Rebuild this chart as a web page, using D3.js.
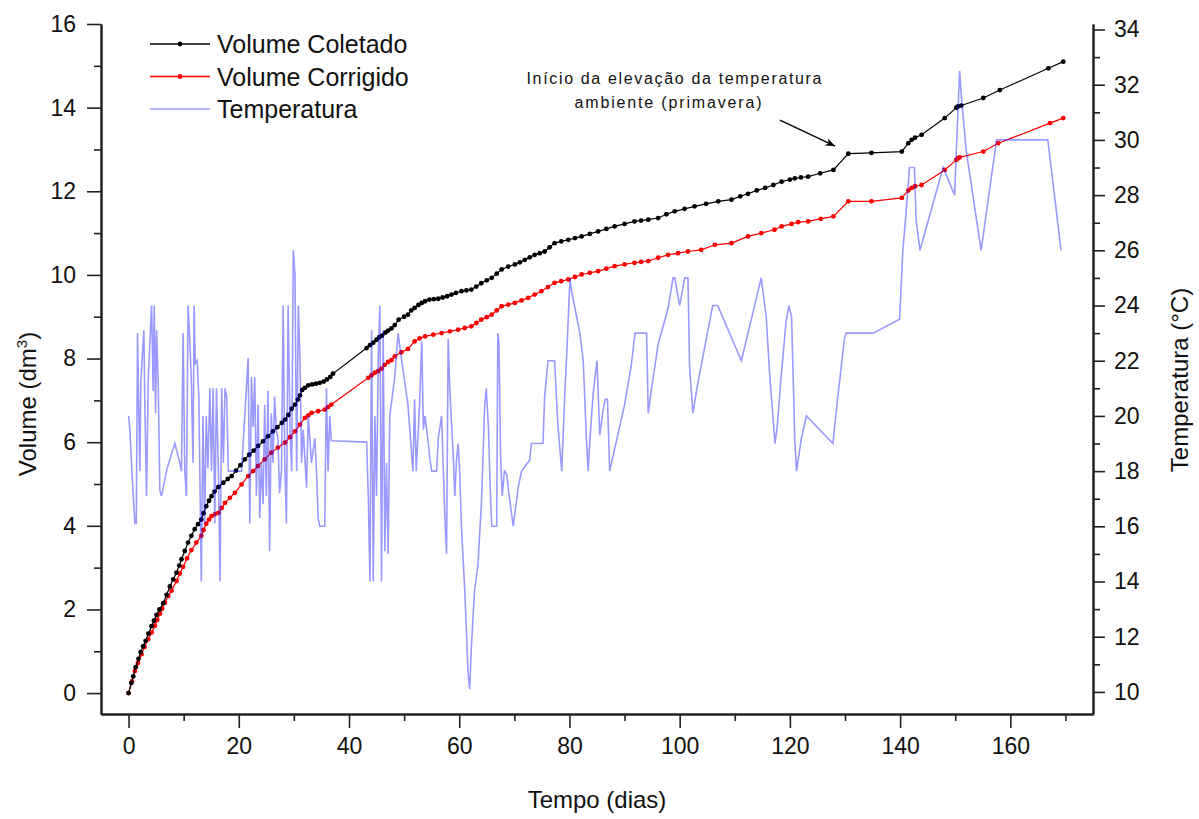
<!DOCTYPE html>
<html lang="pt">
<head>
<meta charset="UTF-8">
<script src="https://d3js.org/d3.v7.min.js"></script>
<style>
    body { margin: 0; background: #fff; font-family: "Liberation Sans", Arial, sans-serif; }
    .tick text { font-size: 23px; fill: #111; font-family: "Liberation Sans", Arial, sans-serif; }
    .axis path, .axis line { stroke: #222; }
    .axis path { stroke-width: 2px; }
    .axis line { stroke-width: 1.6px; }
    .titulo { font-size: 24px; fill: #111; }
    .legenda { font-size: 25px; fill: #111; }
    .nota { font-size: 16px; fill: #111; }
</style>
</head>
<body>
<svg id="chart"></svg>
<script>
// Volume Coletado (dm3)
const diasColetado = [0, 0.5, 0.85, 1.3, 1.8, 2.2, 2.66, 3.1, 3.6, 4.17, 4.6, 5.08, 5.6, 6.3, 6.9, 7.5, 8.1, 8.7, 9.2, 9.6,
    10.2, 10.8, 11.4, 12.0, 12.6, 13.2, 13.6, 14.1, 14.6, 15.05, 15.6, 16.3, 17.2, 18.0, 18.7, 19.5, 20.3, 21.1, 21.9, 22.7,
    23.5, 24.4, 25.3, 26.2, 27.0, 27.8, 28.4, 29.0, 29.6, 30.2, 30.7, 31.1, 31.5, 32.0, 32.6, 33.3, 34.0, 34.7, 35.4, 36.0,
    36.6, 37.1, 43.2, 43.8, 44.4, 45.0, 45.5, 46.0, 46.6, 47.1, 47.7, 48.3, 49.0, 50.0, 50.7, 51.3, 51.9, 52.6, 53.2, 53.8,
    54.6, 55.4, 56.2, 57.0, 57.8, 58.6, 59.4, 60.4, 61.3, 62.2, 63.1, 64.0, 65.0, 65.9, 66.8, 67.7, 68.9, 70.1, 71.0, 71.9,
    72.8, 73.7, 74.6, 75.5, 76.4, 77.3, 78.5, 79.8, 81.0, 82.2, 83.7, 85.2, 86.7, 88.2, 90.0, 91.8, 93.0, 94.3, 96.1, 97.6,
    99.1, 100.9, 102.7, 104.8, 107.0, 109.4, 111.0, 112.4, 114.0, 115.5, 117.0, 118.5, 120.0, 120.9, 122.0, 123.3, 125.5, 127.9, 130.6, 134.8,
    140.3, 141.5, 142.1, 142.7, 143.9, 148.1, 150.2, 150.5, 151.1, 155.1, 158.1, 166.9, 169.6];
const volColetado = [0, 0.24, 0.4, 0.62, 0.82, 0.98, 1.12, 1.25, 1.42, 1.6, 1.73, 1.87, 2.0, 2.15, 2.35, 2.55, 2.72, 2.88, 3.05, 3.2,
    3.4, 3.6, 3.76, 3.92, 4.04, 4.15, 4.3, 4.47, 4.6, 4.71, 4.82, 4.93, 5.03, 5.12, 5.19, 5.32, 5.45, 5.59, 5.7, 5.8,
    5.91, 6.02, 6.14, 6.26, 6.36, 6.46, 6.54, 6.65, 6.8, 6.9, 7.02, 7.12, 7.25, 7.3, 7.36, 7.38, 7.4, 7.42, 7.45, 7.5,
    7.56, 7.64, 8.25, 8.32, 8.38, 8.45, 8.51, 8.55, 8.62, 8.67, 8.72, 8.8, 8.93, 9.0, 9.05, 9.15, 9.21, 9.28, 9.33, 9.37,
    9.41, 9.42, 9.43, 9.46, 9.49, 9.53, 9.57, 9.61, 9.63, 9.65, 9.72, 9.8, 9.87, 9.93, 10.03, 10.13, 10.2, 10.25, 10.3, 10.36,
    10.42, 10.48, 10.52, 10.56, 10.66, 10.76, 10.8, 10.84, 10.88, 10.92, 10.98, 11.04, 11.1, 11.16, 11.22, 11.28, 11.3, 11.32, 11.36, 11.45,
    11.52, 11.58, 11.64, 11.7, 11.76, 11.8, 11.88, 11.94, 12.02, 12.08, 12.15, 12.23, 12.28, 12.31, 12.33, 12.35, 12.43, 12.51, 12.9, 12.92,
    12.95, 13.15, 13.23, 13.28, 13.35, 13.75, 14.0, 14.03, 14.05, 14.23, 14.42, 14.94, 15.1];

// Volume Corrigido (dm3)
const diasCorrigido = [0, 0.6, 1.15, 1.7, 2.36, 2.9, 3.57, 4.2, 4.78, 5.2, 5.7, 6.1, 6.6, 7.2, 7.8, 8.7, 9.3, 9.9, 10.6, 11.4,
    12.3, 13.2, 13.6, 14.1, 14.6, 15.05, 15.7, 16.3, 16.9, 17.5, 18.4, 19.3, 20.5, 21.7, 22.6, 23.5, 24.7, 25.9, 27.1, 28.4,
    29.3, 30.2, 31.1, 32.0, 32.6, 33.2, 34.4, 35.6, 36.2, 36.8, 43.5, 44.1, 44.7, 45.3, 45.9, 46.5, 47.1, 47.7, 48.3, 49.5,
    50.7, 51.9, 52.8, 53.8, 55.3, 56.8, 58.3, 59.8, 61.0, 62.2, 63.1, 64.0, 65.0, 65.9, 66.8, 67.7, 68.9, 70.1, 71.3, 72.5,
    73.7, 74.9, 76.1, 77.3, 78.5, 79.8, 81.0, 82.2, 83.7, 85.2, 86.7, 88.2, 90.0, 91.8, 93.0, 94.3, 96.1, 97.9, 99.7, 101.5,
    103.9, 106.4, 109.4, 112.4, 114.8, 117.2, 118.5, 120.3, 121.5, 123.3, 125.6, 127.9, 130.6, 134.8, 140.3, 141.5, 142.1, 142.7, 143.9, 148.1,
    150.2, 150.5, 150.8, 155.1, 157.8, 167.2, 169.6];
const volCorrigido = [0, 0.28, 0.53, 0.72, 0.93, 1.1, 1.29, 1.45, 1.61, 1.75, 1.9, 2.02, 2.16, 2.32, 2.45, 2.68, 2.86, 3.02, 3.22, 3.42,
    3.6, 3.76, 3.9, 4.05, 4.15, 4.23, 4.28, 4.31, 4.43, 4.55, 4.67, 4.79, 4.99, 5.19, 5.31, 5.43, 5.59, 5.75, 5.87, 5.99,
    6.12, 6.26, 6.42, 6.58, 6.64, 6.7, 6.74, 6.78, 6.84, 6.9, 7.54, 7.6, 7.66, 7.7, 7.76, 7.85, 7.92, 7.96, 8.05, 8.15,
    8.23, 8.41, 8.48, 8.53, 8.57, 8.61, 8.65, 8.69, 8.73, 8.77, 8.85, 8.93, 8.99, 9.05, 9.15, 9.25, 9.29, 9.33, 9.39, 9.45,
    9.53, 9.61, 9.71, 9.81, 9.85, 9.89, 9.95, 10.01, 10.05, 10.09, 10.15, 10.21, 10.25, 10.29, 10.31, 10.33, 10.41, 10.48, 10.52, 10.56,
    10.6, 10.72, 10.76, 10.92, 11.0, 11.08, 11.16, 11.22, 11.26, 11.28, 11.34, 11.4, 11.76, 11.76, 11.84, 12.02, 12.08, 12.12, 12.15, 12.51,
    12.75, 12.79, 12.81, 12.95, 13.15, 13.63, 13.75];

// Temperatura (°C)
const diasTemp = [0, 0.24, 0.66, 1.15, 1.4, 1.63, 1.87, 2.05, 2.23, 2.48, 2.78, 2.96, 3.26, 3.56, 3.87, 4.17, 4.47, 4.65, 4.9, 5.08,
    5.38, 5.68, 5.98, 7.0, 8.4, 9.3, 9.6, 9.9, 10.2, 10.5, 10.8, 11.1, 11.4, 11.7, 11.9, 12.1, 12.45, 12.75, 13.2, 13.5,
    13.8, 14.1, 14.4, 14.75, 15.05, 15.35, 15.65, 15.95, 16.3, 16.6, 16.9, 17.2, 17.5, 17.8, 18.1, 20.5, 21.7, 22.0, 22.3, 22.6,
    22.9, 23.2, 23.5, 23.8, 24.1, 24.4, 24.7, 25.0, 25.3, 25.6, 25.9, 26.2, 26.5, 26.8, 27.1, 27.4, 27.75, 28.05, 28.35, 28.65,
    28.95, 29.3, 29.6, 29.9, 30.2, 30.5, 30.8, 31.1, 31.4, 31.7, 32.3, 32.6, 33.2, 33.8, 34.1, 34.4, 34.7, 35.6, 35.9, 36.2,
    36.5, 36.8, 43.2, 43.5, 43.8, 44.1, 44.4, 44.7, 45.0, 45.3, 45.6, 45.9, 46.2, 46.5, 46.8, 47.1, 47.4, 48.3, 48.9, 49.5,
    50.7, 51.6, 51.9, 52.2, 52.8, 53.2, 53.5, 53.8, 54.4, 54.7, 55.0, 55.9, 56.2, 56.8, 57.4, 57.7, 58.0, 58.3, 58.9, 59.2,
    59.5, 59.8, 60.1, 60.4, 61.0, 61.3, 61.6, 61.9, 62.2, 62.5, 62.8, 63.4, 63.7, 64.0, 64.3, 64.6, 64.9, 65.3, 65.6, 65.9,
    66.8, 67.0, 67.2, 67.5, 67.8, 68.2, 68.6, 69.0, 69.8, 70.7, 71.3, 72.8, 73.1, 75.2, 75.5, 76.1, 77.3, 77.9, 78.6, 79.2,
    79.5, 80.1, 80.4, 81.9, 82.5, 83.1, 83.4, 83.7, 84.3, 84.7, 85.0, 85.5, 86.1, 86.5, 86.9, 87.3, 90.0, 91.2, 91.9, 94.0,
    94.3, 94.9, 96.1, 97.9, 98.8, 99.1, 100.0, 100.9, 101.5, 101.8, 102.4, 103.3, 106.0, 106.9, 111.2, 114.8, 115.7, 116.3, 117.3, 117.7,
    118.4, 119.3, 119.8, 120.3, 120.9, 121.2, 122.1, 123.0, 127.8, 128.7, 129.9, 130.2, 135.1, 139.9, 140.5, 141.1, 141.7, 142.6, 142.9, 143.6,
    147.8, 149.9, 150.2, 150.8, 151.1, 152.0, 154.7, 157.5, 166.8, 169.2];
const temperatura = [20.0, 19.5, 17.8, 16.1, 16.1, 23.0, 20.0, 18.0, 21.2, 22.1, 23.1, 20.4, 17.1, 21.2, 22.7, 24.0, 20.9, 24.0, 20.1, 23.1,
    21.2, 17.3, 17.1, 18.1, 19.0, 18.3, 18.0, 23.0, 18.0, 17.1, 24.0, 22.8, 21.2, 18.3, 24.0, 21.9, 22.0, 20.7, 14.0, 20.0,
    16.1, 20.0, 18.1, 21.0, 18.0, 21.0, 16.1, 21.0, 18.0, 14.0, 21.0, 18.3, 21.0, 20.7, 18.0, 18.0, 22.1, 16.1, 21.4, 19.6,
    21.4, 17.1, 20.4, 16.3, 18.3, 16.8, 20.4, 17.1, 20.9, 15.1, 20.1, 18.3, 20.7, 19.5, 19.2, 17.2, 18.0, 24.0, 18.3, 16.1,
    24.0, 19.5, 18.0, 26.0, 25.1, 18.0, 24.0, 22.1, 18.3, 19.5, 17.4, 20.0, 18.3, 19.2, 18.0, 16.3, 16.0, 16.0, 21.0, 18.0,
    20.0, 19.1, 19.05, 17.1, 14.0, 23.1, 14.0, 20.0, 17.1, 22.1, 24.0, 14.0, 23.1, 15.1, 18.3, 15.0, 20.0, 21.4, 23.0, 22.1,
    20.4, 18.0, 20.6, 18.0, 20.4, 22.7, 19.5, 20.0, 19.0, 18.4, 18.0, 18.0, 19.2, 20.0, 16.3, 15.0, 22.8, 20.9, 18.6, 17.1,
    18.4, 19.0, 17.9, 16.0, 13.7, 12.2, 10.7, 10.1, 11.6, 12.7, 13.7, 14.6, 15.7, 16.7, 18.4, 20.3, 21.0, 19.6, 17.5, 16.0,
    16.0, 23.0, 22.7, 18.6, 17.1, 18.0, 17.9, 17.2, 16.0, 17.4, 18.0, 18.4, 19.0, 19.0, 20.7, 22.0, 22.0, 19.7, 18.0, 21.0,
    22.2, 25.0, 24.5, 23.0, 22.0, 19.1, 18.0, 19.1, 20.8, 21.5, 22.0, 19.3, 20.2, 20.6, 20.6, 18.0, 20.4, 21.8, 23.0, 23.0,
    20.1, 21.0, 22.6, 23.9, 25.0, 25.0, 24.0, 25.0, 25.0, 21.8, 20.1, 21.2, 24.0, 24.0, 22.0, 25.0, 23.6, 21.6, 19.0, 19.6,
    21.4, 23.4, 24.0, 23.6, 19.1, 18.0, 19.2, 20.0, 19.0, 20.7, 22.8, 23.0, 23.0, 23.5, 26.0, 27.4, 29.0, 29.0, 27.1, 26.0,
    29.0, 28.0, 29.6, 32.5, 31.6, 29.6, 26.0, 30.0, 30.0, 26.0];

const xTicks = [0, 20, 40, 60, 80, 100, 120, 140, 160];
const xMinor = [10, 30, 50, 70, 90, 110, 130, 150, 170];
const volTicks = [0, 2, 4, 6, 8, 10, 12, 14, 16];
const volMinor = [1, 3, 5, 7, 9, 11, 13, 15];
const tempTicks = [10, 12, 14, 16, 18, 20, 22, 24, 26, 28, 30, 32, 34];
const tempMinor = [11, 13, 15, 17, 19, 21, 23, 25, 27, 29, 31, 33];

const series = ["Volume Coletado", "Volume Corrigido", "Temperatura"];
const nota = ["Início da elevação da temperatura", "ambiente (primavera)"];

const width = 1199, height = 819;
const margin = { top: 24, right: 106, bottom: 105, left: 101 };

const svg = d3.select("#chart").attr("width", width).attr("height", height);

const x = d3.scaleLinear().domain([-5, 175]).range([margin.left, width - margin.right]);
const yVol = d3.scaleLinear().domain([-0.5, 16]).range([height - margin.bottom, margin.top]);
const yTemp = d3.scaleLinear().domain([9.2, 34.2]).range([height - margin.bottom, margin.top]);

const coletado = d3.zip(diasColetado, volColetado);
const corrigido = d3.zip(diasCorrigido, volCorrigido);
const temp = d3.zip(diasTemp, temperatura);

// eixos
const yBase = height - margin.bottom;
svg.append("g").attr("class", "axis").attr("transform", `translate(0,${yBase})`)
    .call(d3.axisBottom(x).tickValues(xMinor).tickSize(7).tickSizeOuter(0).tickFormat(""));
svg.append("g").attr("class", "axis").attr("transform", `translate(0,${yBase})`)
    .call(d3.axisBottom(x).tickValues(xTicks).tickSize(14).tickSizeOuter(0).tickPadding(10));

svg.append("g").attr("class", "axis").attr("transform", `translate(${margin.left},0)`)
    .call(d3.axisLeft(yVol).tickValues(volMinor).tickSize(7).tickSizeOuter(0).tickFormat(""));
svg.append("g").attr("class", "axis").attr("transform", `translate(${margin.left},0)`)
    .call(d3.axisLeft(yVol).tickValues(volTicks).tickSize(14).tickSizeOuter(0).tickPadding(11));

svg.append("g").attr("class", "axis").attr("transform", `translate(${width - margin.right},0)`)
    .call(d3.axisRight(yTemp).tickValues(tempMinor).tickSize(7).tickSizeOuter(0).tickFormat(""));
svg.append("g").attr("class", "axis").attr("transform", `translate(${width - margin.right},0)`)
    .call(d3.axisRight(yTemp).tickValues(tempTicks).tickSize(12).tickSizeOuter(0).tickPadding(9));

// títulos
svg.append("text").attr("class", "titulo")
    .attr("x", (margin.left + width - margin.right) / 2).attr("y", 808)
    .attr("text-anchor", "middle").text("Tempo (dias)");

const tv = svg.append("text").attr("class", "titulo")
    .attr("transform", "translate(36,404) rotate(-90)")
    .attr("text-anchor", "middle");
tv.append("tspan").text("Volume (dm");
tv.append("tspan").attr("dy", -9).attr("font-size", "15px").text("3");
tv.append("tspan").attr("dy", 9).text(")");

svg.append("text").attr("class", "titulo")
    .attr("transform", "translate(1188,380) rotate(-90)")
    .attr("text-anchor", "middle").text("Temperatura (°C)");

// séries
const lineVol = d3.line().x(d => x(d[0])).y(d => yVol(d[1]));
const lineTemp = d3.line().x(d => x(d[0])).y(d => yTemp(d[1]));

svg.append("path").datum(corrigido).attr("d", lineVol)
    .attr("fill", "none").attr("stroke", "#ff0000").attr("stroke-width", 1.2);
svg.selectAll(".pt-corr").data(corrigido).enter().append("circle")
    .attr("class", "pt-corr").attr("cx", d => x(d[0])).attr("cy", d => yVol(d[1]))
    .attr("r", 2.4).attr("fill", "#ff0000");

svg.append("path").datum(coletado).attr("d", lineVol)
    .attr("fill", "none").attr("stroke", "#000").attr("stroke-width", 1.2);
svg.selectAll(".pt-col").data(coletado).enter().append("circle")
    .attr("class", "pt-col").attr("cx", d => x(d[0])).attr("cy", d => yVol(d[1]))
    .attr("r", 2.4).attr("fill", "#000");

svg.append("path").datum(temp).attr("d", lineTemp)
    .attr("fill", "none").attr("stroke", "#0000ff").attr("stroke-opacity", 0.4)
    .attr("stroke-width", 1.6).attr("stroke-linejoin", "miter");

// legenda
const cores = ["#000", "#ff0000", "#0000ff"];
const leg = svg.append("g").attr("transform", "translate(150,44)");
series.forEach((s, i) => {
    const g = leg.append("g").attr("transform", `translate(0,${i * 32.5})`);
    g.append("line").attr("x1", 0).attr("x2", 60).attr("y1", 0).attr("y2", 0)
        .attr("stroke", cores[i]).attr("stroke-width", i === 2 ? 1.6 : 1.3)
        .attr("stroke-opacity", i === 2 ? 0.4 : 1);
    if (i < 2) g.append("circle").attr("cx", 30).attr("cy", 0).attr("r", 2.4).attr("fill", cores[i]);
    g.append("text").attr("class", "legenda").attr("x", 67).attr("y", 9).text(s);
});

// anotação
svg.append("defs").append("marker").attr("id", "seta")
    .attr("viewBox", "0 0 10 10").attr("refX", 10).attr("refY", 5)
    .attr("markerWidth", 9).attr("markerHeight", 7).attr("orient", "auto")
    .append("path").attr("d", "M0,1 L10,5 L0,9 L3,5 Z").attr("fill", "#000");

svg.append("line")
    .attr("x1", x(118.2)).attr("y1", yVol(13.7))
    .attr("x2", x(128.2)).attr("y2", yVol(13.08))
    .attr("stroke", "#000").attr("stroke-width", 1.4).attr("marker-end", "url(#seta)");

svg.append("text").attr("class", "nota").attr("x", 674).attr("y", 84)
    .attr("text-anchor", "middle").attr("textLength", 295).attr("lengthAdjust", "spacing").text(nota[0]);
svg.append("text").attr("class", "nota").attr("x", 668).attr("y", 108)
    .attr("text-anchor", "middle").attr("textLength", 187).attr("lengthAdjust", "spacing").text(nota[1]);
</script>
</body>
</html>
